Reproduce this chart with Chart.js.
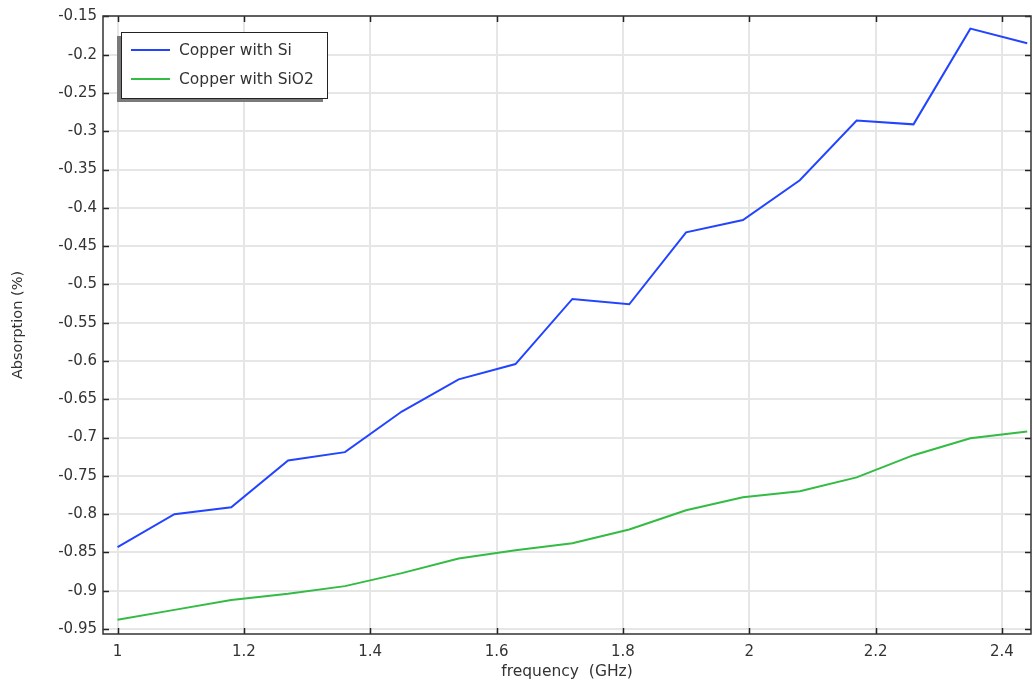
<!DOCTYPE html>
<html>
<head>
<meta charset="utf-8">
<script src="https://cdn.jsdelivr.net/npm/chart.js@4/dist/chart.umd.min.js"></script>
<style>
html,body{margin:0;padding:0;background:#fff;}
#wrap{position:relative;width:1033px;height:681px;}
</style>
</head>
<body>
<div id="wrap"><canvas id="c" width="1033" height="681"></canvas></div>
<script>
const frequency = [1, 1.09, 1.18, 1.27, 1.36, 1.45, 1.54, 1.63, 1.72, 1.81, 1.9, 1.99, 2.08, 2.17, 2.26, 2.35, 2.44];
const copperSi = [-0.843, -0.800, -0.791, -0.730, -0.719, -0.666, -0.624, -0.604, -0.519, -0.526, -0.432, -0.416, -0.364, -0.286, -0.291, -0.166, -0.185];
const copperSiO2 = [-0.938, -0.925, -0.912, -0.904, -0.894, -0.877, -0.858, -0.847, -0.838, -0.820, -0.795, -0.778, -0.770, -0.752, -0.723, -0.701, -0.692];
const seriesLabels = ['Copper with Si', 'Copper with SiO2'];
const xTitle = 'frequency  (GHz)';
const yTitle = 'Absorption (%)';

const FONT = "'DejaVu Sans', sans-serif";
const TXT = '#333333';

function fmt(v){ return String(+(+v).toFixed(3)); }

const framePlugin = {
  id: 'frame',
  afterDatasetsDraw(chart){
    const {ctx, chartArea:a, scales} = chart;
    ctx.save();
    ctx.strokeStyle = '#222';
    ctx.lineWidth = 1.5;
    const tl = 6;
    scales.x.ticks.forEach(t => {
      const px = Math.round(scales.x.getPixelForValue(t.value)) + 0.5;
      ctx.beginPath();
      ctx.moveTo(px, a.bottom); ctx.lineTo(px, a.bottom - tl);
      ctx.moveTo(px, a.top); ctx.lineTo(px, a.top + tl);
      ctx.stroke();
    });
    scales.y.ticks.forEach(t => {
      const py = Math.round(scales.y.getPixelForValue(t.value)) + 0.5;
      ctx.beginPath();
      ctx.moveTo(a.left, py); ctx.lineTo(a.left + tl, py);
      ctx.moveTo(a.right, py); ctx.lineTo(a.right - tl, py);
      ctx.stroke();
    });
    ctx.strokeStyle = '#333';
    ctx.lineWidth = 1.5;
    ctx.strokeRect(a.left, a.top, a.right - a.left, a.bottom - a.top);

    // legend
    const lx = 121, ly = 32, lw = 206, lh = 66;
    ctx.fillStyle = '#7a7a7a';
    ctx.fillRect(lx - 4, ly + 4, lw, lh);
    ctx.fillStyle = '#fff';
    ctx.fillRect(lx, ly, lw, lh);
    ctx.strokeStyle = '#222';
    ctx.lineWidth = 1;
    ctx.strokeRect(lx + 0.5, ly + 0.5, lw, lh);
    ctx.font = '15.5px ' + FONT;
    ctx.textBaseline = 'middle';
    chart.data.datasets.forEach((ds, i) => {
      const y = ly + 18 + i * 29;
      ctx.strokeStyle = ds.borderColor;
      ctx.lineWidth = 2;
      ctx.beginPath(); ctx.moveTo(131, y); ctx.lineTo(170, y); ctx.stroke();
      ctx.fillStyle = TXT;
      ctx.fillText(ds.label, 179, y + 1);
    });
    ctx.restore();
  }
};

new Chart(document.getElementById('c'), {
  type: 'line',
  data: {
    datasets: [
      { label: seriesLabels[0], data: frequency.map((f, i) => ({x: f, y: copperSi[i]})), borderColor: '#2244ff', borderWidth: 2, pointRadius: 0, tension: 0, fill: false },
      { label: seriesLabels[1], data: frequency.map((f, i) => ({x: f, y: copperSiO2[i]})), borderColor: '#33bb44', borderWidth: 2, pointRadius: 0, tension: 0, fill: false }
    ]
  },
  options: {
    responsive: false,
    animation: false,
    layout: { padding: { top: 16, right: 2, left: 0, bottom: 0 } },
    plugins: { legend: { display: false }, tooltip: { enabled: false } },
    scales: {
      x: {
        type: 'linear', min: 0.977, max: 2.446,
        afterFit(s){ s.height = 47; },
        ticks: { stepSize: 0.2, includeBounds: false, autoSkip: false, maxRotation: 0, padding: 9, color: TXT, font: { family: FONT, size: 15 }, callback: v => fmt(v) },
        grid: { color: '#e6e6e6', lineWidth: 2, drawTicks: false },
        border: { display: false },
        title: { display: true, text: xTitle, color: TXT, font: { family: FONT, size: 15.5 }, padding: { top: 0, bottom: 0 } }
      },
      y: {
        type: 'linear', min: -0.9565, max: -0.1495,
        afterFit(s){ s.width = 103; },
        ticks: { stepSize: 0.05, includeBounds: false, autoSkip: false, padding: 6, color: TXT, font: { family: FONT, size: 15 }, callback: v => fmt(v) },
        grid: { color: '#e6e6e6', lineWidth: 2, drawTicks: false },
        border: { display: false },
        title: { display: true, text: yTitle, color: TXT, font: { family: FONT, size: 14.5 }, padding: { top: 10, bottom: 0 } }
      }
    }
  },
  plugins: [framePlugin]
});
</script>
</body>
</html>
